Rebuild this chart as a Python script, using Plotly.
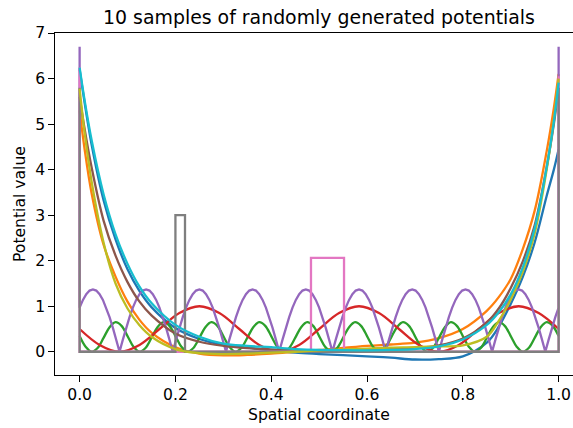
import plotly.graph_objects as go

# ---------------- data ----------------
# smooth potentials share one x grid
x_smooth = [0, 0.01, 0.025, 0.05, 0.075, 0.1, 0.125, 0.15, 0.2, 0.25, 0.3, 0.35, 0.4, 0.45,
            0.5, 0.6, 0.65, 0.7, 0.75, 0.8, 0.85, 0.875, 0.9, 0.925, 0.95, 0.975, 0.99, 1.0]
blue_y = [6.2, 5.5, 4.55, 3.33, 2.47, 1.81, 1.33, 0.98, 0.52, 0.28, 0.15, 0.09, 0.03, -0.02,
          -0.05, -0.1, -0.13, -0.17, -0.16, -0.1, 0.2, 0.55, 1.05, 1.64, 2.4, 3.42, 4.0, 4.45]
orange_y = [5.3, 4.48, 3.48, 2.35, 1.65, 1.1, 0.7, 0.42, 0.1, -0.04, -0.08, -0.07, -0.04, 0.0,
            0.04, 0.13, 0.16, 0.2, 0.3, 0.5, 0.9, 1.2, 1.6, 2.25, 3.1, 4.4, 5.35, 6.1]
brown_y = [5.6, 4.92, 4.05, 2.88, 2.11, 1.53, 1.1, 0.8, 0.4, 0.22, 0.13, 0.08, 0.05, 0.04,
           0.03, 0.05, 0.06, 0.08, 0.14, 0.29, 0.64, 0.95, 1.4, 1.98, 2.78, 4.05, 5.0, 5.8]
olive_y = [5.78, 4.85, 3.74, 2.4, 1.5, 0.95, 0.58, 0.33, 0.06, -0.03, -0.05, -0.04, -0.02, 0.0,
           0.03, 0.07, 0.09, 0.1, 0.12, 0.14, 0.33, 0.68, 1.15, 1.75, 2.6, 4.0, 5.1, 6.0]
cyan_y = [6.24, 5.55, 4.65, 3.46, 2.58, 1.93, 1.43, 1.07, 0.59, 0.33, 0.18, 0.13, 0.1, 0.06,
          0.04, 0.03, 0.04, 0.06, 0.12, 0.27, 0.59, 0.87, 1.26, 1.85, 2.71, 4.05, 5.05, 5.91]

# red cosine potential, sampled every 1/24
red_x = [i / 24 for i in range(25)]
red_y = [0.5, 0.15, 0.0, 0.15, 0.5, 0.85, 1.0, 0.85,
         0.5, 0.15, 0.0, 0.15, 0.5, 0.85, 1.0, 0.85,
         0.5, 0.15, 0.0, 0.15, 0.5, 0.85, 1.0, 0.85, 0.5]

# green cosine potential, sampled every 0.0125
green_x = [i / 80 for i in range(81)]
green_y = [0.345, 0.11, 0.0, 0.084, 0.305, 0.54, 0.649, 0.569,
           0.345, 0.11, 0.0, 0.084, 0.305, 0.54, 0.649, 0.569,
           0.345, 0.11, 0.0, 0.084, 0.305, 0.54, 0.649, 0.569,
           0.345, 0.11, 0.0, 0.084, 0.305, 0.54, 0.649, 0.569,
           0.345, 0.11, 0.0, 0.084, 0.305, 0.54, 0.649, 0.569,
           0.345, 0.11, 0.0, 0.084, 0.305, 0.54, 0.649, 0.569,
           0.345, 0.11, 0.0, 0.084, 0.305, 0.54, 0.649, 0.569,
           0.345, 0.11, 0.0, 0.084, 0.305, 0.54, 0.649, 0.569,
           0.345, 0.11, 0.0, 0.084, 0.305, 0.54, 0.649, 0.569,
           0.345, 0.11, 0.0, 0.084, 0.305, 0.54, 0.649, 0.569,
           0.345]

# purple |sin| potential with walls at both ends, sampled every 1/144
purple_x = [0] + [i / 144 for i in range(145)] + [1]
purple_y = ([6.7] +
            [0.969, 1.139, 1.266, 1.344, 1.37, 1.344, 1.266, 1.139,
             0.969, 0.761, 0.524, 0.267, 0.0, 0.267, 0.524, 0.761] +
            [0.969, 1.139, 1.266, 1.344, 1.37, 1.344, 1.266, 1.139,
             0.969, 0.761, 0.524, 0.267, 0.0, 0.267, 0.524, 0.761] +
            [0.969, 1.139, 1.266, 1.344, 1.37, 1.344, 1.266, 1.139,
             0.969, 0.761, 0.524, 0.267, 0.0, 0.267, 0.524, 0.761] +
            [0.969, 1.139, 1.266, 1.344, 1.37, 1.344, 1.266, 1.139,
             0.969, 0.761, 0.524, 0.267, 0.0, 0.267, 0.524, 0.761] +
            [0.969, 1.139, 1.266, 1.344, 1.37, 1.344, 1.266, 1.139,
             0.969, 0.761, 0.524, 0.267, 0.0, 0.267, 0.524, 0.761] +
            [0.969, 1.139, 1.266, 1.344, 1.37, 1.344, 1.266, 1.139,
             0.969, 0.761, 0.524, 0.267, 0.0, 0.267, 0.524, 0.761] +
            [0.969, 1.139, 1.266, 1.344, 1.37, 1.344, 1.266, 1.139,
             0.969, 0.761, 0.524, 0.267, 0.0, 0.267, 0.524, 0.761] +
            [0.969, 1.139, 1.266, 1.344, 1.37, 1.344, 1.266, 1.139,
             0.969, 0.761, 0.524, 0.267, 0.0, 0.267, 0.524, 0.761] +
            [0.969, 1.139, 1.266, 1.344, 1.37, 1.344, 1.266, 1.139,
             0.969, 0.761, 0.524, 0.267, 0.0, 0.267, 0.524, 0.761] +
            [0.969] +
            [6.7])

# pink barrier potential
pink_x = [0, 0, 0.483, 0.483, 0.552, 0.552, 1, 1]
pink_y = [6.24, 0, 0, 2.06, 2.06, 0, 0, 6.05]

# gray barrier potential
gray_x = [0, 0, 0.2, 0.2, 0.22, 0.22, 1, 1]
gray_y = [5.8, 0, 0, 3.0, 3.0, 0, 0, 5.8]

x_ticks = [0.0, 0.2, 0.4, 0.6, 0.8, 1.0]
x_tick_labels = ["0.0", "0.2", "0.4", "0.6", "0.8", "1.0"]
y_ticks = [0, 1, 2, 3, 4, 5, 6, 7]
y_tick_labels = ["0", "1", "2", "3", "4", "5", "6", "7"]

title_text = "10 samples of randomly generated potentials"
x_label = "Spatial coordinate"
y_label = "Potential value"

# ---------------- figure ----------------
series = [
    (x_smooth, blue_y, "#1f77b4", "spline"),
    (x_smooth, orange_y, "#ff7f0e", "spline"),
    (green_x, green_y, "#2ca02c", "spline"),
    (red_x, red_y, "#d62728", "spline"),
    (purple_x, purple_y, "#9467bd", "linear"),
    (x_smooth, brown_y, "#8c564b", "spline"),
    (pink_x, pink_y, "#e377c2", "linear"),
    (gray_x, gray_y, "#7f7f7f", "linear"),
    (x_smooth, olive_y, "#bcbd22", "spline"),
    (x_smooth, cyan_y, "#17becf", "spline"),
]

fig = go.Figure()
for xs, ys, col, shape in series:
    fig.add_trace(go.Scatter(x=xs, y=ys, mode="lines",
                             line=dict(color=col, width=2.3, shape=shape),
                             showlegend=False, hoverinfo="skip"))

W, H = 573, 428
L, R, T, B = 55, 0, 33, 53
font = "DejaVu Sans, Arial, sans-serif"
tick_size = 15.6

fig.update_layout(
    width=W, height=H,
    margin=dict(l=L, r=R, t=T, b=B, pad=0),
    paper_bgcolor="white", plot_bgcolor="white",
    font=dict(family=font, size=tick_size, color="black"),
    showlegend=False,
    title=dict(text=title_text, x=319 / W, xref="container", xanchor="center",
               y=1 - 17.5 / H, yref="container", yanchor="middle",
               font=dict(size=18.9, family=font, color="black")),
)
fig.update_xaxes(range=[-0.0514, 1.03], showgrid=False, zeroline=False,
                 showline=True, linecolor="black", linewidth=1.2, mirror=True,
                 ticks="outside", ticklen=5.5, tickwidth=1.2, tickcolor="black",
                 tickvals=x_ticks, ticktext=x_tick_labels,
                 tickfont=dict(size=tick_size, family=font, color="black"))
fig.update_yaxes(range=[-0.51, 7.0], showgrid=False, zeroline=False,
                 showline=True, linecolor="black", linewidth=1.2,
                 ticks="outside", ticklen=5.5, tickwidth=1.2, tickcolor="black",
                 tickvals=y_ticks, ticktext=y_tick_labels,
                 tickfont=dict(size=tick_size, family=font, color="black"))

plot_w = W - L - R
plot_h = H - T - B
fig.add_annotation(text=x_label, xref="paper", yref="paper",
                   x=(319 - L) / plot_w, y=(H - B - 415) / plot_h,
                   xanchor="center", yanchor="middle", showarrow=False,
                   font=dict(size=tick_size, family=font, color="black"))
fig.add_annotation(text=y_label, xref="paper", yref="paper",
                   x=(20 - L) / plot_w, y=0.5, textangle=-90,
                   xanchor="center", yanchor="middle", showarrow=False,
                   font=dict(size=tick_size, family=font, color="black"))

fig.write_html("out.html")
